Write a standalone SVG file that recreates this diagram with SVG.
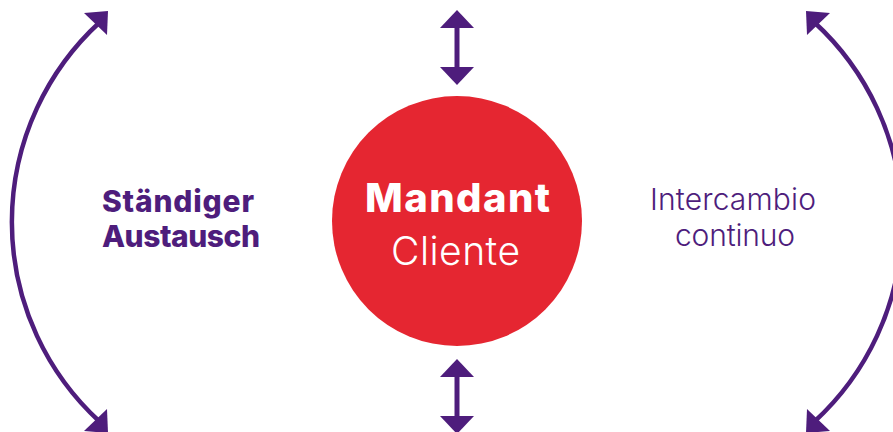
<svg xmlns="http://www.w3.org/2000/svg" width="893" height="432" viewBox="0 0 893 432">
<style>
.arc{fill:none;stroke:#4e1d7c;stroke-width:4.5}
.shaft{stroke:#4e1d7c;stroke-width:5}
.head{fill:#4e1d7c}
.lbl{font-family:Inter,"Open Sans",sans-serif;fill:#4e1d7c;text-anchor:middle;font-size:30px}
.b{font-weight:800}
.l{font-weight:300}
.w{fill:#ffffff}
</style>
<rect width="893" height="432" fill="#ffffff"/>
<g id="connectors">
  <path class="arc" d="M100,22 A271,271 0 0 0 100,422"/>
  <polygon class="head" points="84,13 108,11 107,35"/>
  <polygon class="head" points="84,431 108,433 107,409"/>
  <path class="arc" d="M814,22 A271,271 0 0 1 814,422"/>
  <polygon class="head" points="830,13 806,11 807,35"/>
  <polygon class="head" points="830,431 806,433 807,409"/>
  <line class="shaft" x1="457" y1="26" x2="457" y2="69"/>
  <polygon class="head" points="457,10 474,28 440,28"/>
  <polygon class="head" points="457,85 474,67 440,67"/>
  <line class="shaft" x1="457" y1="375" x2="457" y2="418"/>
  <polygon class="head" points="457,359 474,377 440,377"/>
  <polygon class="head" points="457,434 474,416 440,416"/>
</g>
<g id="node-client">
  <circle cx="457" cy="221" r="125" fill="#e52631"/>
  <text class="lbl b w" x="457.5" y="212" style="font-size:40px" textLength="185" lengthAdjust="spacing">Mandant</text>
  <text class="lbl l w" x="455.5" y="265" style="font-size:39px" textLength="129" lengthAdjust="spacing">Cliente</text>
</g>
<g id="label-left">
  <text class="lbl b" x="178" y="212" textLength="152" lengthAdjust="spacing">Ständiger</text>
  <text class="lbl b" x="181" y="247" textLength="158" lengthAdjust="spacing">Austausch</text>
</g>
<g id="label-right">
  <text class="lbl l" x="733" y="210" textLength="166" lengthAdjust="spacing">Intercambio</text>
  <text class="lbl l" x="735" y="246" textLength="120" lengthAdjust="spacing">continuo</text>
</g>
</svg>
